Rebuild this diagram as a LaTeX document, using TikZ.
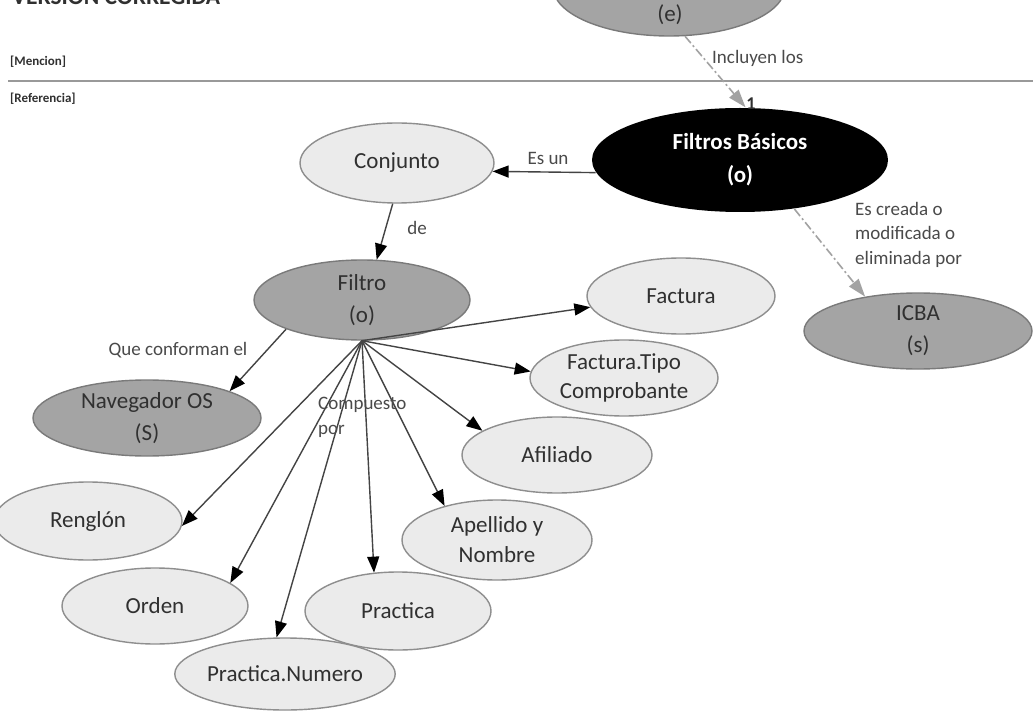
\documentclass[tikz,border=0pt]{standalone}
\usepackage{fontspec}
\setmainfont{Carlito}
\usetikzlibrary{arrows.meta,shapes.geometric}

\definecolor{lightfill}{HTML}{EBEBEB}
\definecolor{darkfill}{HTML}{A4A4A4}
\definecolor{rimgrey}{HTML}{8E8E8E}
\definecolor{darkrim}{HTML}{7A7A7A}
\definecolor{inkgrey}{HTML}{303030}
\definecolor{linkgrey}{HTML}{444444}
\definecolor{dashgrey}{HTML}{A2A2A2}
\definecolor{labelgrey}{HTML}{4A4A4A}

\tikzset{
  concept/.style={ellipse, line width=1.4pt, inner sep=0pt, text=inkgrey,
    font=\fontsize{23}{32}\selectfont, align=center},
  lightc/.style={concept, draw=rimgrey, fill=lightfill},
  darkc/.style={concept, draw=darkrim, fill=darkfill},
  link/.style={draw=linkgrey, line width=1.4pt,
    -{Triangle[length=16pt,width=12pt,color=black]}},
  weak/.style={draw=dashgrey, line width=1.6pt,
    dash pattern=on 9pt off 3pt on 2pt off 3pt,
    -{Triangle[length=18pt,width=12pt,color=dashgrey]}},
  lbl/.style={text=labelgrey, font=\fontsize{19}{24.5}\selectfont, inner sep=0pt},
  tag/.style={text=inkgrey, font=\bfseries\fontsize{13}{15}\selectfont, inner sep=0pt},
}

\begin{document}
\begin{tikzpicture}[x=1pt,y=-1pt]
  \useasboundingbox (0,0) rectangle (1033,711);
  \clip (0,0) rectangle (1033,711);
  \fill[white] (0,0) rectangle (1033,711);

  % page header
  \node[anchor=base west, inner sep=0pt, text=inkgrey,
        font=\bfseries\fontsize{23.5}{26}\selectfont] (title) at (12,5) {VERSION CORREGIDA};
  \node[tag, anchor=west] (mencion) at (10,62) {[Mencion]};
  \node[tag, anchor=west] (referencia) at (10,99) {[Referencia]};
  \coordinate (ruleL) at (8,81);
  \coordinate (ruleR) at (1033,81);
  \draw[line width=2.4pt, color=gray!80] (ruleL) -- (ruleR);

  % concepts
  \node[darkc, minimum width=232pt, minimum height=98pt] (E) at (669,-13) {};
  \node[concept, inner sep=0pt] (Elbl) at (670,15) {(e)};
  \node[concept, fill=black, text=white, font=\bfseries\fontsize{23}{33}\selectfont,
        minimum width=296pt, minimum height=104pt] (FB) at (740,160) {Filtros Básicos\\(o)};
  \node[lightc, minimum width=194pt, minimum height=80pt] (Conj) at (397,163) {Conjunto};
  \node[darkc, minimum width=216pt, minimum height=80pt] (Filtro) at (362,300) {Filtro\\(o)};
  \node[darkc, minimum width=228pt, minimum height=76pt] (ICBA) at (918,331) {ICBA\\(s)};
  \node[lightc, minimum width=188pt, minimum height=76pt] (Factura) at (681,296) {Factura};
  \node[lightc, minimum width=188pt, minimum height=76pt,
        font=\fontsize{23}{29}\selectfont] (Tipo) at (624,378) {Factura.Tipo\\Comprobante};
  \node[lightc, minimum width=190pt, minimum height=76pt] (Afil) at (557,455) {Afiliado};
  \node[lightc, minimum width=190pt, minimum height=80pt,
        font=\fontsize{23}{30}\selectfont] (Apell) at (497,540) {Apellido y\\Nombre};
  \node[darkc, minimum width=228pt, minimum height=76pt] (Nav) at (147,418) {Navegador OS\\(S)};
  \node[lightc, minimum width=188pt, minimum height=78pt] (Reng) at (88,521) {Renglón};
  \node[lightc, minimum width=186pt, minimum height=76pt] (Orden) at (155,606) {Orden};
  \node[lightc, minimum width=186pt, minimum height=78pt] (Pract) at (398,611) {Practica};
  \node[lightc, minimum width=186pt, minimum height=72pt] (PNum) at (285,674) {Practica.Numero};

  % links
  \draw[weak] (E.-72) -- (FB.84);
  \draw[weak] (FB.-42) -- (ICBA.147);
  \draw[link] (FB.185) -- (Conj.-5);
  \draw[link] (Conj.264) -- (Filtro.70);
  \draw[link] (Filtro.201) -- (Nav.18);
  \coordinate (hub) at (Filtro.south);
  \draw[link] (hub) -- (Factura.187);
  \draw[link] (hub) -- (Tipo.176);
  \draw[link] (hub) -- (Afil.162);
  \draw[link] (hub) -- (Apell.147);
  \draw[link] (hub) -- (Pract.122);
  \draw[link] (hub) -- (PNum.103);
  \draw[link] (hub) -- (Orden.17);
  \draw[link] (hub) -- (Reng.357);

  % link phrases
  \node[lbl, anchor=west] (incl) at (712,58) {Incluyen los};
  \node[lbl, text=inkgrey, font=\bfseries\fontsize{18}{20}\selectfont] (card) at (751,104) {1};
  \node[lbl] (esun) at (548,158) {Es un};
  \node[lbl] (de) at (417,228) {de};
  \node[lbl] (quec) at (178,350) {Que conforman el};
  \node[lbl, anchor=north west, align=left] (comp) at (318,397) {Compuesto\\por};
  \node[lbl, anchor=north west, align=left] (creada) at (855,202) {Es creada o\\modificada o\\eliminada por};
\end{tikzpicture}
\end{document}
